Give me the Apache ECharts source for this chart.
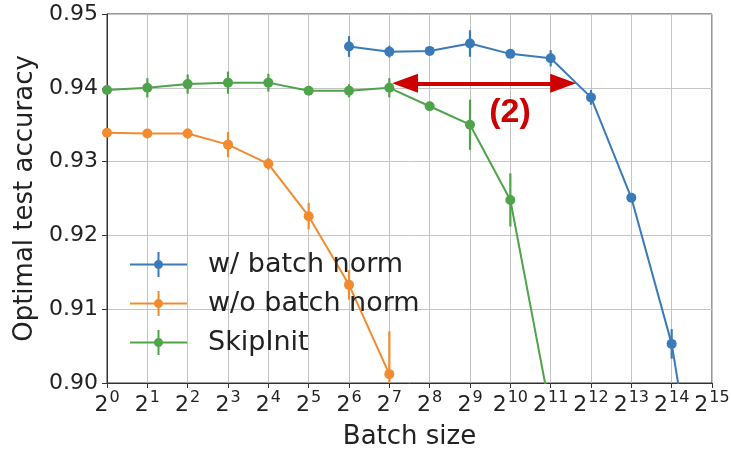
<!DOCTYPE html>
<html>
<head>
<meta charset="utf-8">
<script src="https://cdn.jsdelivr.net/npm/echarts@6/dist/echarts.min.js"></script>
<style>html,body{margin:0;padding:0;background:#fff;}#chart{width:731px;height:449px;}</style>
</head>
<body>
<div id="chart"></div>
<script>
// ---- data ----
const batchExponents = [0,1,2,3,4,5,6,7,8,9,10,11,12,13,14,15]; // batch size = 2^exp
const bnExps   = [6,7,8,9,10,11,12,13,14,15];
const bnVals   = [0.9456,0.9449,0.9450,0.9460,0.9446,0.9440,0.9387,0.9251,0.9053,0.872];
const bnErr    = [0.0014,0.0008,0.0005,0.0018,0.0005,0.0011,0.0010,0.0005,0.0020,0];
const noBnExps = [0,1,2,3,4,5,6,7];
const noBnVals = [0.9339,0.9338,0.9338,0.9323,0.9297,0.9226,0.9133,0.9012];
const noBnErr  = [0.0003,0.0003,0.0007,0.0017,0.0008,0.0018,0.0020,0.0058];
const skipExps = [0,1,2,3,4,5,6,7,8,9,10,11];
const skipVals = [0.9397,0.9400,0.9405,0.9407,0.9407,0.9396,0.9396,0.9400,0.9375,0.9350,0.9248,0.896];
const skipErr  = [0.0003,0.0013,0.0013,0.0015,0.0012,0.0005,0.0009,0.0013,0.0006,0.0034,0.0036,0];
const seriesNames = ['w/ batch norm','w/o batch norm','SkipInit'];
const yTicks = [0.90,0.91,0.92,0.93,0.94,0.95];
const arrowFrom = [7.39, 0.9406];
const arrowTo   = [11.31, 0.9406];
const annotText = '(2)';
const annotPos  = [9.99, 0.9366];

const colors = ['#3a7ab8','#f28b30','#4fa34a'];
const FONT = 'DejaVu Sans';

function pairs(xs, ys){ return xs.map((x,i)=>[x, ys[i]]); }
function errData(xs, ys, es){ return xs.map((x,i)=>[x, ys[i]-es[i], ys[i]+es[i]]); }

function errRender(color){
  return function(params, api){
    const cs = params.coordSys;
    const x = api.value(0);
    const lo = api.coord([x, api.value(1)]);
    const hi = api.coord([x, api.value(2)]);
    let y1 = Math.min(Math.max(hi[1], cs.y), cs.y + cs.height);
    let y2 = Math.min(Math.max(lo[1], cs.y), cs.y + cs.height);
    if (y2 - y1 < 0.5) return null;
    return {type:'line', shape:{x1:lo[0], y1:y1, x2:lo[0], y2:y2},
      style:{stroke:color, lineWidth:2.2}};
  };
}

const legendIcon = 'path://M0,11.5H57V13.5H0Z M27.5,0H29.5V25H27.5Z M24,12.5A4.5,4.5 0 1 1 33,12.5A4.5,4.5 0 1 1 24,12.5Z';

function lineSeries(name, xs, ys, color){
  return {name:name, type:'line', data:pairs(xs,ys), color:color,
    symbol:'circle', symbolSize:10, showSymbol:true,
    lineStyle:{width:2, color:color}, itemStyle:{color:color},
    clip:true, animation:false, z:3};
}
function errSeries(xs, ys, es, color){
  return {type:'custom', data:errData(xs,ys,es), renderItem:errRender(color),
    encode:{x:0, y:[1,2]}, animation:false, z:3, silent:true};
}

const chart = echarts.init(document.getElementById('chart'), null, {renderer:'canvas'});
chart.setOption({
  animation:false,
  backgroundColor:'#fff',
  grid:{left:107, top:14, right:19, bottom:66, show:true, borderColor:'#333', borderWidth:1,
    outerBoundsMode:'none', containLabel:false},
  xAxis:{type:'value', min:batchExponents[0], max:batchExponents[batchExponents.length-1], interval:1,
    name:'Batch size', nameLocation:'middle', nameGap:41,
    nameTextStyle:{fontFamily:FONT, fontSize:26, color:'#222'},
    axisLine:{lineStyle:{color:'#333', width:1}},
    axisTick:{show:true, length:5, lineStyle:{color:'#333'}},
    splitLine:{show:true, lineStyle:{color:'#c4c4c4', width:1}},
    axisLabel:{margin:7, color:'#222', fontFamily:FONT, hideOverlap:false,
      formatter:(v)=>'{b|2}{s|' + v + '}',
      rich:{b:{fontSize:22, fontFamily:FONT, color:'#222'},
            s:{fontSize:16, fontFamily:FONT, color:'#222', padding:[0,0,14,1]}}}},
  yAxis:{type:'value', min:yTicks[0], max:yTicks[yTicks.length-1], interval:0.01,
    name:'Optimal test accuracy', nameLocation:'middle', nameGap:67,
    nameTextStyle:{fontFamily:FONT, fontSize:26, color:'#222'},
    axisLine:{show:true, lineStyle:{color:'#333', width:1}},
    axisTick:{show:true, length:5, lineStyle:{color:'#333'}},
    splitLine:{show:true, lineStyle:{color:'#c4c4c4', width:1}},
    axisLabel:{margin:9, color:'#222', fontFamily:FONT, fontSize:22, formatter:(v)=>v.toFixed(2)}},
  legend:{left:130, top:251, padding:0, orient:'vertical', itemWidth:57, itemHeight:25, itemGap:12,
    icon:legendIcon, data:seriesNames,
    textStyle:{fontFamily:FONT, fontSize:27, color:'#222', padding:[0,0,0,16]}},
  series:[
    errSeries(bnExps,bnVals,bnErr,colors[0]),
    errSeries(noBnExps,noBnVals,noBnErr,colors[1]),
    errSeries(skipExps,skipVals,skipErr,colors[2]),
    lineSeries(seriesNames[0], bnExps, bnVals, colors[0]),
    lineSeries(seriesNames[1], noBnExps, noBnVals, colors[1]),
    Object.assign(lineSeries(seriesNames[2], skipExps, skipVals, colors[2]), {
      markLine:{silent:true, symbol:['triangle','triangle'], symbolSize:[19,26],
        lineStyle:{color:'#cc0000', width:4, type:'solid'},
        label:{show:false},
        data:[[{coord:arrowFrom},{coord:arrowTo}]], animation:false, z:5},
      markPoint:{silent:true, symbol:'circle', symbolSize:0,
        label:{show:true, formatter:annotText, color:'#cc0000', fontFamily:'Liberation Sans', fontWeight:'bold', fontSize:34, position:'inside'},
        data:[{coord:annotPos}], animation:false}
    })
  ]
});
</script>
</body>
</html>
